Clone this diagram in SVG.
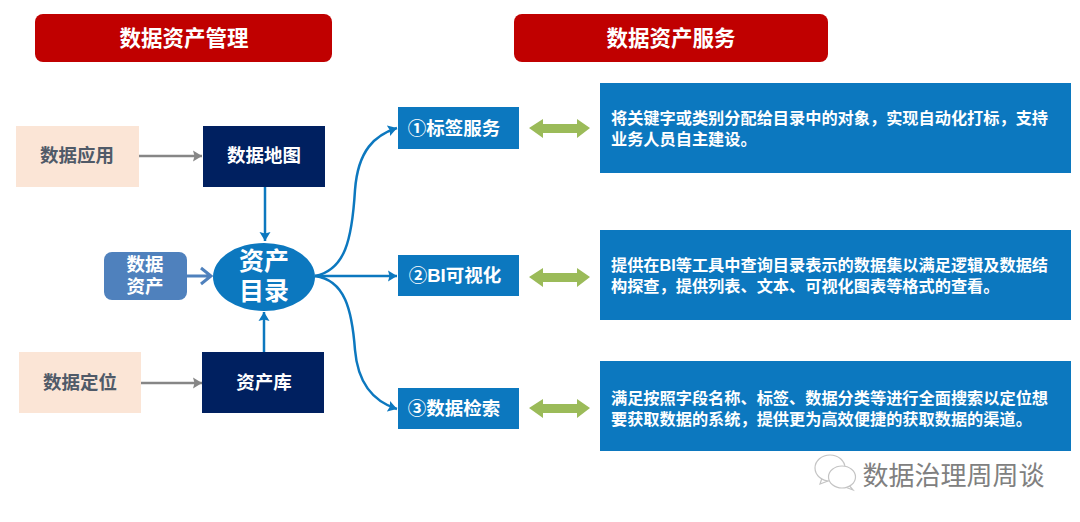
<svg xmlns="http://www.w3.org/2000/svg" width="1080" height="522" viewBox="0 0 1080 522">
<style>
text{font-family:"Liberation Sans","Noto Sans CJK SC",sans-serif;font-weight:700;text-anchor:middle;fill:#fff}
.hd{font-size:21.5px}
.nv{font-size:18.5px}
.pe{font-size:18.5px;fill:#505a68}
.sv{font-size:18.5px}
.de{font-size:16.2px;text-anchor:start}
.blue{fill:#0c78bf}
.navy{fill:#002060}
.peach{fill:#fbe5d6}
.red{fill:#c00000}
.c{fill:none;stroke:#0c78bf;stroke-width:2.5}
.g{fill:none;stroke:#868686;stroke-width:2.5}
</style>
<defs>
<marker id="ab" markerUnits="userSpaceOnUse" markerWidth="10" markerHeight="12" refX="9" refY="6" orient="auto"><path d="M0 0.5L9 6L0 11.5L1.5 6Z" fill="#0c78bf"/></marker>
<marker id="ag" markerUnits="userSpaceOnUse" markerWidth="10" markerHeight="12" refX="9" refY="6" orient="auto"><path d="M0 0.5L9 6L0 11.5L1.5 6Z" fill="#868686"/></marker>
</defs>
<g id="h1"><rect class="red" x="35" y="14" width="297" height="48" rx="8"/><text class="hd" x="184" y="46">数据资产管理</text></g>
<g id="h2"><rect class="red" x="514" y="14" width="314" height="48" rx="8"/><text class="hd" x="671" y="46">数据资产服务</text></g>
<g id="connectors">
<path class="g" d="M139 156H202" marker-end="url(#ag)"/>
<path class="g" d="M141 383H202" marker-end="url(#ag)"/>
<path class="c" d="M265 187V241" marker-end="url(#ab)"/>
<path class="c" d="M264 352V312" marker-end="url(#ab)"/>
<path d="M187 276H211M201 268L211 276L201 284" fill="none" stroke="#4f81bd" stroke-width="3"/>
<path class="c" d="M315 276C345 270 352 240 355 190C358 150 375 135 397 128" marker-end="url(#ab)"/>
<path class="c" d="M315 276H397" marker-end="url(#ab)"/>
<path class="c" d="M315 276C345 280 352 310 355 350C358 385 375 402 397 409" marker-end="url(#ab)"/>
<path id="dbl1" d="M529 128L543 119V124H577V119L590 128L577 138V133H543V138Z" fill="#9bbb59"/>
<path id="dbl2" d="M529 277L543 268V273H577V268L590 277L577 287V282H543V287Z" fill="#9bbb59"/>
<path id="dbl3" d="M529 408L543 399V404H577V399L590 408L577 418V413H543V418Z" fill="#9bbb59"/>
</g>
<g id="n-app"><rect class="peach" x="16" y="126" width="123" height="61"/><text class="pe" x="77" y="162">数据应用</text></g>
<g id="n-map"><rect class="navy" x="203" y="126" width="122" height="61"/><text class="nv" x="264" y="162">数据地图</text></g>
<g id="n-asset"><rect x="104" y="252" width="83" height="48" rx="8" fill="#4f81bd"/><text class="nv" x="145" y="271">数据</text><text class="nv" x="145" y="293">资产</text></g>
<g id="n-cat"><ellipse class="blue" cx="264" cy="277" rx="51" ry="34"/><text x="264" y="270" font-size="25">资产</text><text x="264" y="300" font-size="25">目录</text></g>
<g id="n-loc"><rect class="peach" x="19" y="352" width="122" height="61"/><text class="pe" x="80" y="389">数据定位</text></g>
<g id="n-lib"><rect class="navy" x="202" y="352" width="122" height="61"/><text class="nv" x="264" y="389">资产库</text></g>
<g id="s1"><rect class="blue" x="398" y="107" width="121" height="42"/><text class="sv" x="454" y="135">①标签服务</text></g>
<g id="s2"><rect class="blue" x="398" y="255" width="121" height="41"/><text class="sv" x="455" y="282">②BI可视化</text></g>
<g id="s3"><rect class="blue" x="398" y="388" width="121" height="41"/><text class="sv" x="454" y="415">③数据检索</text></g>
<g id="d1"><rect class="blue" x="600" y="83" width="471" height="90"/><text class="de" x="611" y="124">将关键字或类别分配给目录中的对象，实现自动化打标，支持</text><text class="de" x="611" y="145">业务人员自主建设。</text></g>
<g id="d2"><rect class="blue" x="600" y="230" width="471" height="90"/><text class="de" x="611" y="271">提供在BI等工具中查询目录表示的数据集以满足逻辑及数据结</text><text class="de" x="611" y="292">构探查，提供列表、文本、可视化图表等格式的查看。</text></g>
<g id="d3"><rect class="blue" x="600" y="361" width="471" height="90"/><text class="de" x="611" y="404">满足按照字段名称、标签、数据分类等进行全面搜索以定位想</text><text class="de" x="611" y="425">要获取数据的系统，提供更为高效便捷的获取数据的渠道。</text></g>
<g id="wm"><text x="953.5" y="485" font-size="26" style="font-weight:400;fill:#808080">数据治理周周谈</text>
<g fill="#fff" stroke="#c4c4c4" stroke-width="1.2"><path d="M822 478L820 484L828 481"/><ellipse cx="830" cy="468" rx="15" ry="13"/><path d="M848 484L853 490L845 487"/><ellipse cx="842" cy="477" rx="13.500" ry="11"/></g></g>
</svg>
